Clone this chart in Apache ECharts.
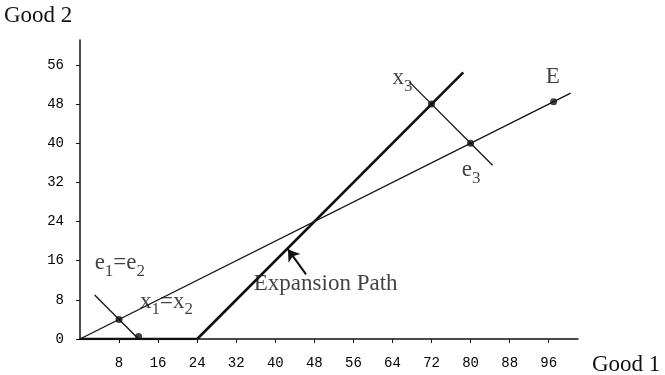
<!DOCTYPE html>
<html lang="en" style="height: 100%">
<head>
<meta charset="utf-8">
<title>Expansion Path</title>
</head>
<body style="height: 100%; margin: 0; background: #fff">
<div id="container" style="height: 100%"></div>

<script type="text/javascript" src="https://cdn.jsdelivr.net/npm/echarts/dist/echarts.min.js"></script>

<script type="text/javascript">
var dom = document.getElementById('container');
var myChart = echarts.init(dom);

// tick labels
var xTicks = [8, 16, 24, 32, 40, 48, 56, 64, 72, 80, 88, 96];
var yTicks = [0, 8, 16, 24, 32, 40, 48, 56];

// lines (Good 1, Good 2)
var endowmentLine = [[0, 0], [100.5, 50.25]];
var expansionPath = [[0, 0], [24, 0], [78.5, 54.5]];
var budgetLow = [[3, 9], [12, 0]];
var budgetHigh = [[67.5, 52.5], [84.5, 35.5]];
var dots = [[8, 4], [12, 0.5], [72, 48], [80, 40], [97, 48.5]];
var arrowFrom = [46.3, 13.2];
var arrowTo = [42.6, 18.3];

// annotations: text, x, y
var notes = [
  ['{a|x}{s|3}', 64, 53.3],
  ['{a|e}{s|3}', 78.2, 34.5],
  ['{a|E}', 95.4, 53.6],
  ['{a|e}{s|1}{a|=e}{s|2}', 3, 15.5],
  ['{a|x}{s|1}{a|=x}{s|2}', 12.3, 7.6],
  ['{a|Expansion Path}', 35.6, 11.2]
];

var serif = 'Liberation Serif';
var mono = 'Liberation Mono';

function lineSeries(data, width) {
  return {
    type: 'line',
    data: data,
    symbol: 'none',
    silent: true,
    lineStyle: { color: '#111', width: width }
  };
}

var option = {
  animation: false,
  grid: { left: 80, right: 87, top: 40, bottom: 36 },
  graphic: [
    { type: 'text', left: 4, top: 4, style: { text: 'Good 2', font: '23px "Liberation Serif"', fill: '#111' } },
    { type: 'text', left: 592, top: 353, style: { text: 'Good 1', font: '23px "Liberation Serif"', fill: '#111' } }
  ],
  xAxis: {
    type: 'value',
    min: 0,
    max: 102,
    interval: 8,
    splitLine: { show: false },
    axisLine: { lineStyle: { color: '#111', width: 1.5 } },
    axisTick: { customValues: xTicks, length: 4, lineStyle: { color: '#111' } },
    axisLabel: {
      customValues: xTicks,
      margin: 17,
      fontFamily: mono,
      fontSize: 14,
      color: '#000',
      formatter: function (v) { return xTicks.indexOf(v) >= 0 ? String(v) : ''; }
    }
  },
  yAxis: {
    type: 'value',
    min: 0,
    max: 61.1,
    interval: 8,
    splitLine: { show: false },
    axisLine: { lineStyle: { color: '#111', width: 1.5 } },
    axisTick: { customValues: yTicks, length: 4, lineStyle: { color: '#111' } },
    axisLabel: {
      customValues: yTicks,
      margin: 16,
      fontFamily: mono,
      fontSize: 14,
      color: '#000',
      formatter: function (v) { return yTicks.indexOf(v) >= 0 ? String(v) : ''; }
    }
  },
  series: [
    lineSeries(endowmentLine, 1.3),
    lineSeries(expansionPath, 2.6),
    lineSeries(budgetLow, 1.3),
    lineSeries(budgetHigh, 1.3),
    {
      type: 'scatter',
      data: dots,
      symbolSize: 7,
      silent: true,
      itemStyle: { color: '#111' },
      markLine: {
        silent: true,
        symbol: ['none', 'arrow'],
        symbolSize: 11,
        label: { show: false },
        itemStyle: { color: '#111' },
        lineStyle: { color: '#111', width: 2, type: 'solid', curveness: 0.1 },
        data: [[{ coord: arrowFrom }, { coord: arrowTo }]]
      }
    },
    {
      type: 'scatter',
      symbolSize: 0,
      silent: true,
      data: notes.map(function (n) { return { value: [n[1], n[2]], name: n[0] }; }),
      label: {
        show: true,
        position: 'right',
        distance: 0,
        formatter: function (p) { return p.name; },
        rich: {
          a: { fontFamily: serif, fontSize: 23, color: '#111', lineHeight: 26 },
          s: { fontFamily: serif, fontSize: 17, color: '#111', lineHeight: 26, padding: [16, 0, 0, 0] }
        }
      }
    }
  ]
};

myChart.setOption(option);
window.addEventListener('resize', myChart.resize);
</script>
</body>
</html>
